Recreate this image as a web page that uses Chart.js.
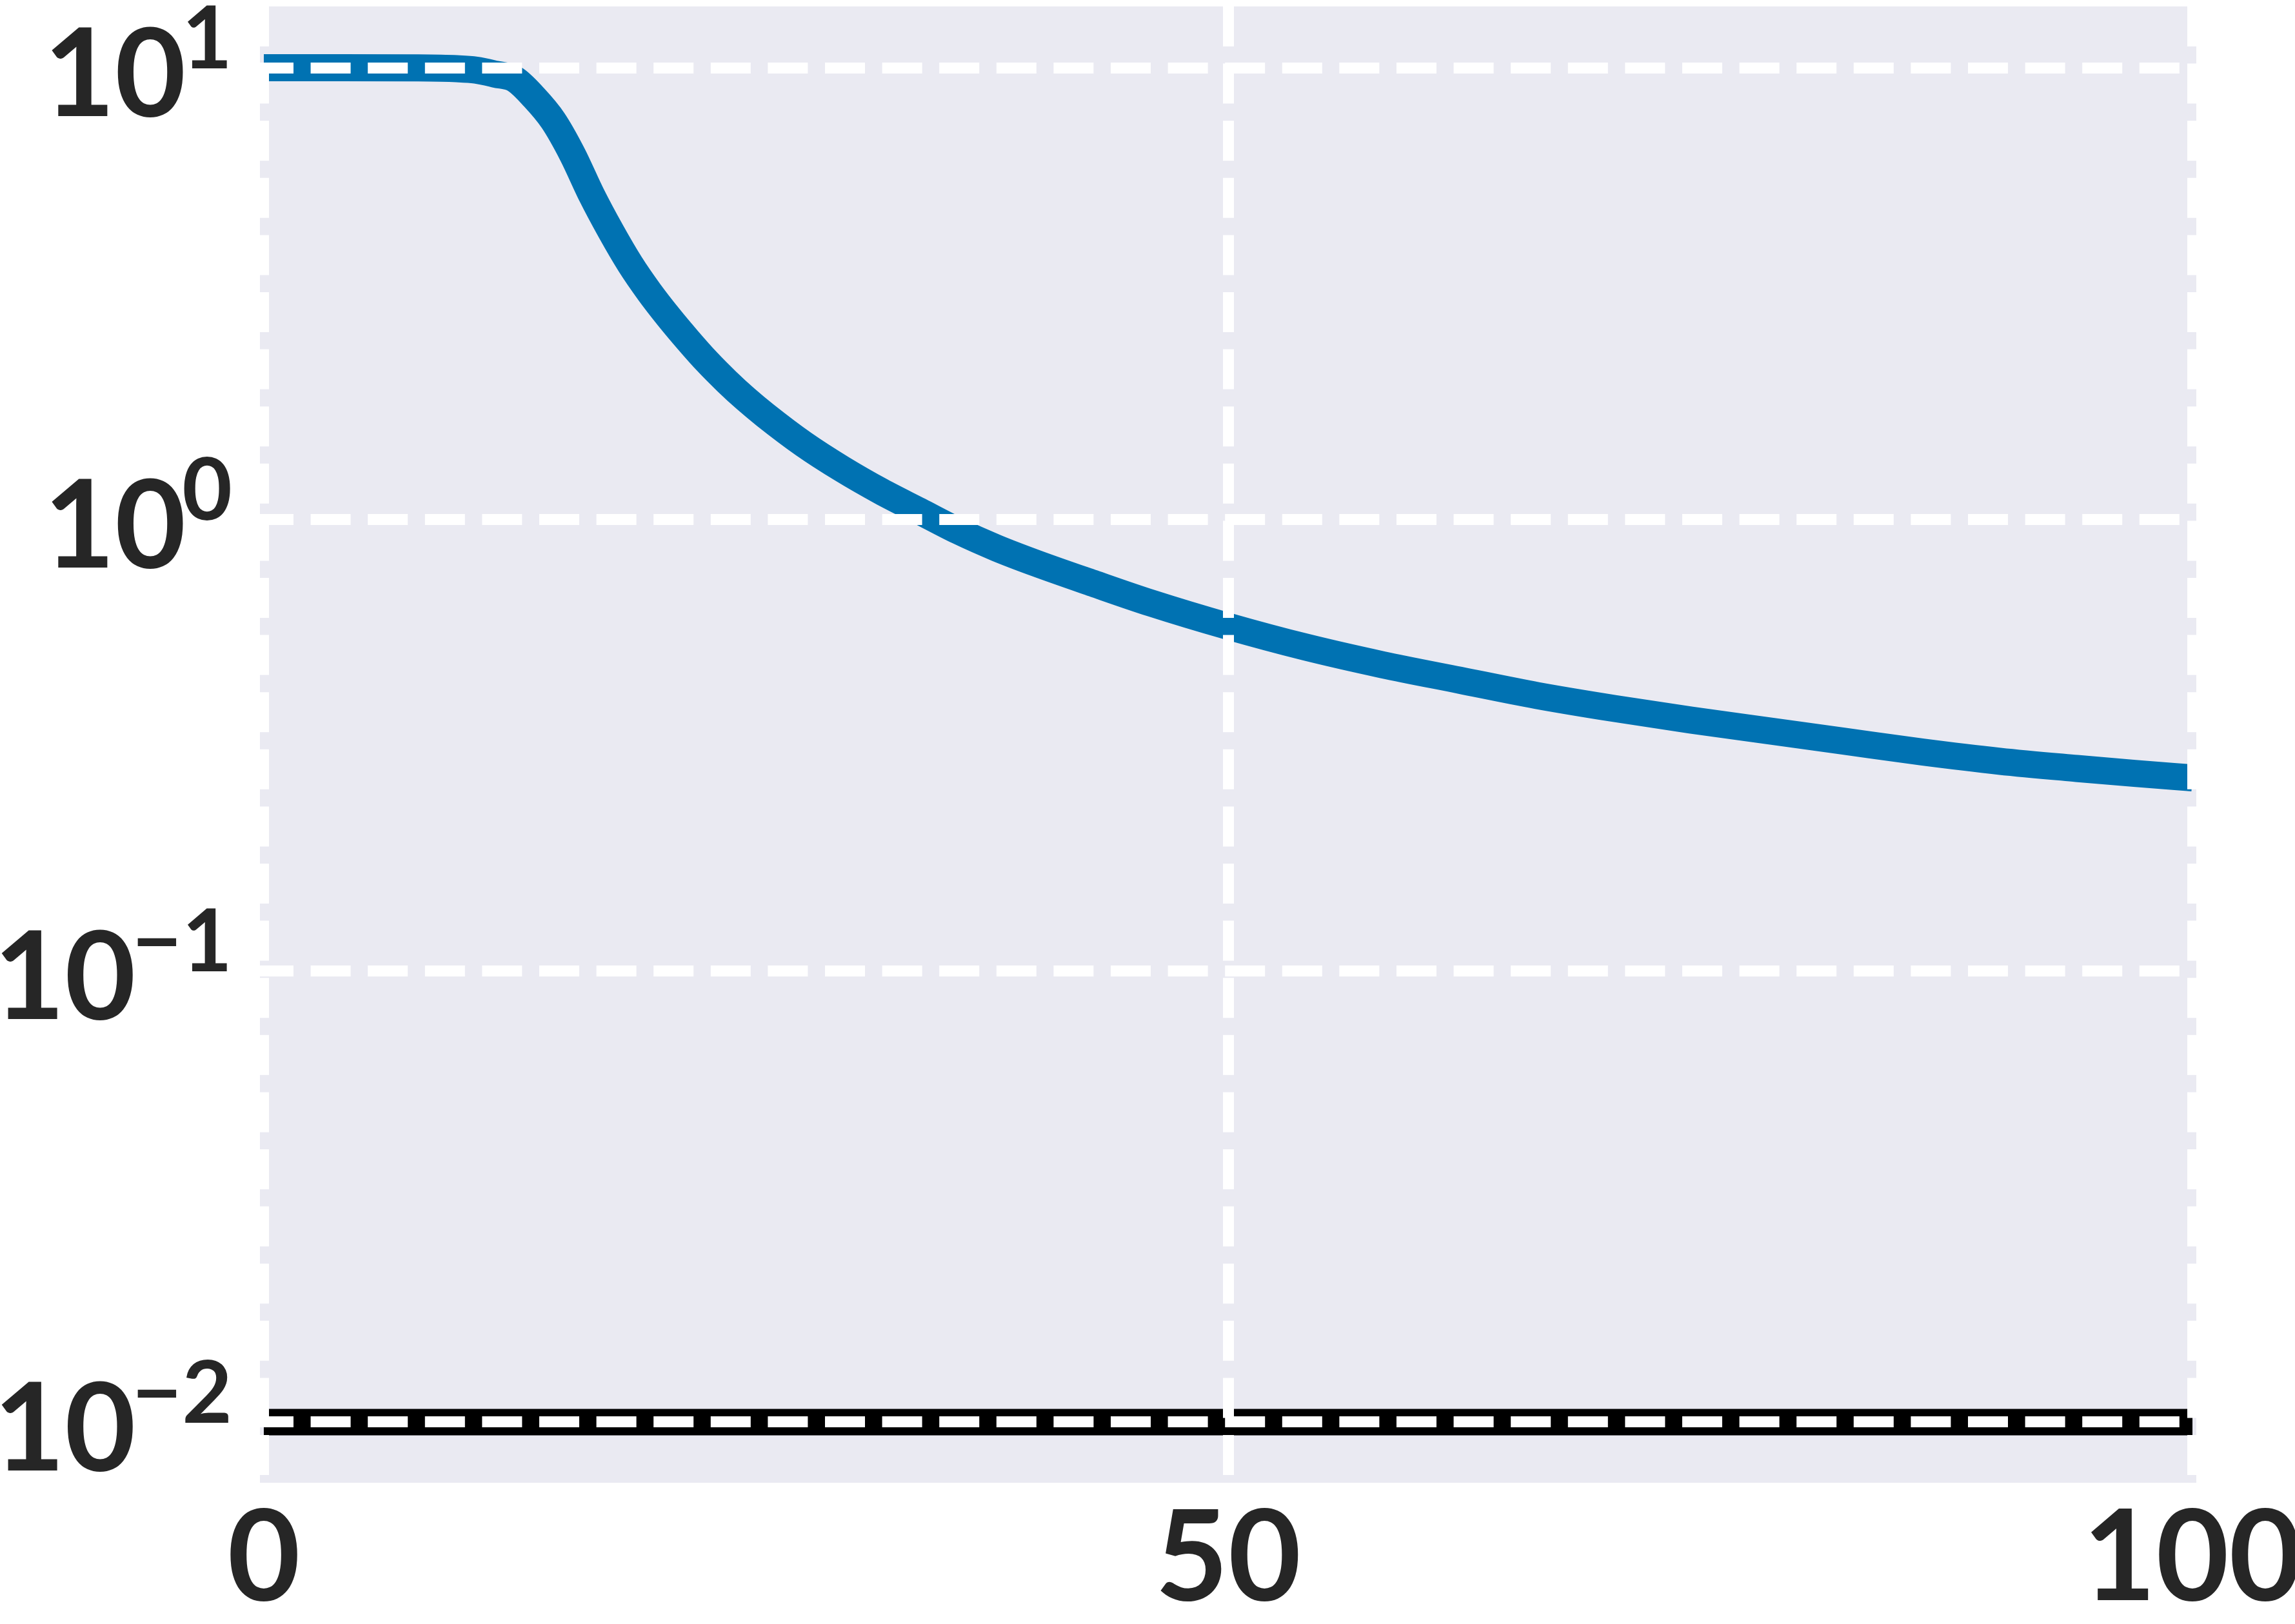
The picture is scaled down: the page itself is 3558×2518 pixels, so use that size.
<!DOCTYPE html>
<html>
<head>
<meta charset="utf-8">
<script src="https://cdn.jsdelivr.net/npm/chart.js@4.4.0/dist/chart.umd.min.js"></script>
<style>
  html, body { margin: 0; padding: 0; background: #fff; }
</style>
</head>
<body>
<canvas id="chart1" width="3558" height="2518"></canvas>
<script>
// training curve
const steps = [0, 4, 8, 10, 11, 12, 13, 14, 15, 16, 17, 18, 19, 20, 21, 22, 23, 24, 25, 26, 28, 30, 32, 34, 36, 38, 40, 43, 46, 50, 54, 58, 62, 66, 70, 74, 78, 82, 86, 90, 94, 97, 100];
const lossValues = [10.0, 10.0, 9.99, 9.95, 9.88, 9.68, 9.44, 8.61, 7.64, 6.43, 5.22, 4.34, 3.67, 3.18, 2.8, 2.49, 2.23, 2.02, 1.845, 1.7, 1.466, 1.291, 1.153, 1.042, 0.942, 0.863, 0.8, 0.721, 0.652, 0.579, 0.521, 0.476, 0.44, 0.407, 0.381, 0.359, 0.34, 0.322, 0.305, 0.291, 0.2805, 0.2735, 0.2673];

// flat reference line
const refSteps = [0, 100];
const refValues = [0.01, 0.01];

const xTicks = [0, 50, 100];
const yTickExponents = [-2, -1, 0, 1];

const textColor = '#262626';

const lossData = steps.map((s, i) => ({ x: s, y: lossValues[i] }));
const refData = refSteps.map((s, i) => ({ x: s, y: refValues[i] }));

// grey plot background
const bgPlugin = {
  id: 'bg',
  beforeDraw(chart) {
    const ctx = chart.ctx;
    const a = chart.chartArea;
    ctx.save();
    ctx.fillStyle = '#fff';
    ctx.fillRect(0, 0, chart.width, chart.height);
    ctx.fillStyle = '#EAEAF2';
    ctx.fillRect(a.left, a.top, a.right - a.left, a.bottom - a.top);
    ctx.restore();
  }
};

// y labels as 10 with a raised exponent
const yLabelPlugin = {
  id: 'yLabels',
  afterDraw(chart) {
    const ctx = chart.ctx;
    const yScale = chart.scales.y;
    ctx.save();
    ctx.fillStyle = textColor;
    ctx.textAlign = 'left';
    ctx.textBaseline = 'alphabetic';
    yTickExponents.forEach(e => {
      const y = yScale.getPixelForValue(Math.pow(10, e));
      const sup = e < 0 ? '\u2212' + (-e) : String(e);
      ctx.font = 'bold 134px Lato';
      const supW = ctx.measureText(sup).width;
      ctx.font = 'bold 190px Lato';
      const baseW = ctx.measureText('10').width;
      const x0 = 360 - supW - baseW;
      ctx.fillText('10', x0 + 6, y + 75);
      ctx.font = 'bold 134px Lato';
      ctx.fillText(sup, x0 + baseW, y + 1);
    });
    ctx.restore();
  }
};

const ctx = document.getElementById('chart1').getContext('2d');
const myChart = new Chart(ctx, {
  type: 'line',
  data: {
    datasets: [
      {
        label: 'loss',
        data: lossData,
        borderColor: '#0072B2',
        borderWidth: 42,
        borderCapStyle: 'butt',
        borderJoinStyle: 'round',
        cubicInterpolationMode: 'monotone',
        pointRadius: 0,
        fill: false,
        clip: 0
      },
      {
        label: 'reference',
        data: refData,
        borderColor: '#000000',
        borderWidth: 41,
        borderCapStyle: 'butt',
        pointRadius: 0,
        fill: false,
        clip: 0
      }
    ]
  },
  options: {
    responsive: false,
    animation: false,
    devicePixelRatio: 1,
    layout: {
      padding: { top: 10, right: 153, bottom: 0, left: 0 }
    },
    plugins: {
      legend: { display: false },
      tooltip: { enabled: false }
    },
    scales: {
      x: {
        type: 'linear',
        min: -0.2,
        max: 100.2,
        z: 1,
        afterBuildTicks: scale => {
          scale.ticks = xTicks.map(v => ({ value: v }));
        },
        afterFit: scale => {
          scale.height = 219;
          scale.paddingLeft = 0;
          scale.paddingRight = 0;
        },
        grid: {
          color: '#ffffff',
          lineWidth: 17,
          drawTicks: false,
          z: 1
        },
        border: { display: false, dash: [62, 26.6], dashOffset: 0 },
        ticks: {
          color: textColor,
          font: { family: 'Lato', size: 195, weight: 'bold', lineHeight: 1 },
          padding: 22,
          maxRotation: 0,
          autoSkip: false,
          callback: v => String(v)
        }
      },
      y: {
        type: 'logarithmic',
        min: 0.00734,
        max: 13.67,
        z: 1,
        afterBuildTicks: scale => {
          scale.ticks = yTickExponents.map(e => ({ value: Math.pow(10, e) }));
        },
        afterFit: scale => {
          scale.width = 403;
        },
        grid: {
          color: '#ffffff',
          lineWidth: 17,
          drawTicks: false,
          z: 1
        },
        border: { display: false, dash: [62, 26.6], dashOffset: 10 },
        ticks: { display: false }
      }
    }
  },
  plugins: [bgPlugin, yLabelPlugin]
});
</script>
</body>
</html>
